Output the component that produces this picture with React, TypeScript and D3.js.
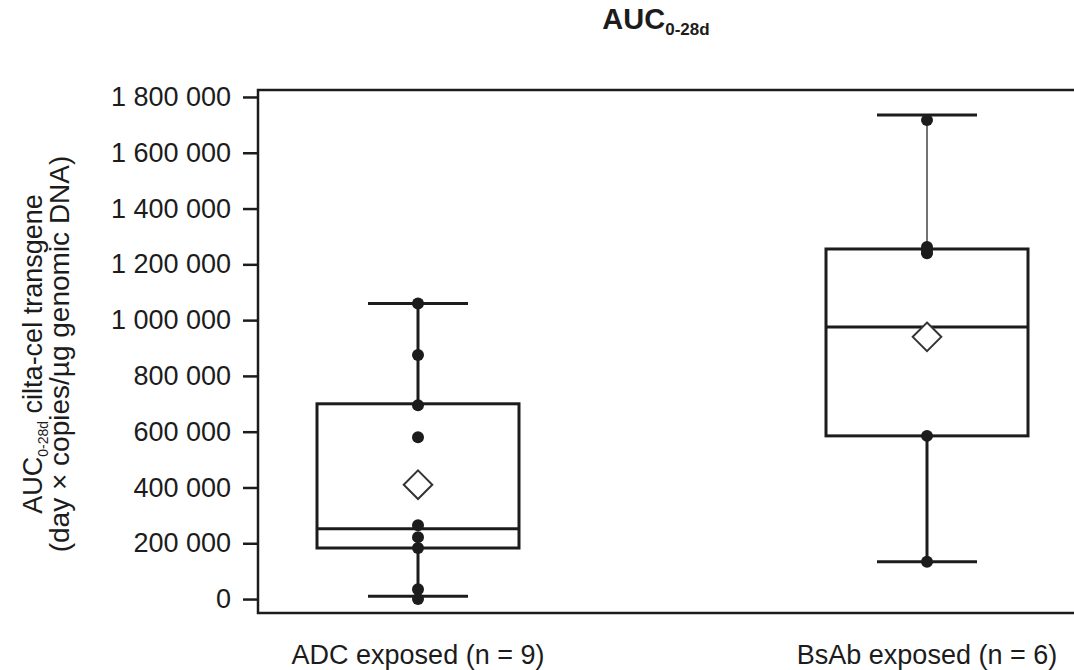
import React, { useEffect, useRef } from 'react'
import * as d3 from 'd3'

// groups and box statistics
const categories = ['ADC exposed (n = 9)', 'BsAb exposed (n = 6)']
const whiskerLow = [10000, 134000]
const q1 = [183000, 585000]
const median = [252000, 975000]
const q3 = [700000, 1255000]
const whiskerHigh = [1060000, 1735000]
const means = [410000, 940000]

// individual patients
const adcPoints = [1060000, 875000, 695000, 580000, 265000, 222000, 183000, 35000, 0]
const bsabPoints = [1717000, 1262000, 1240000, 585000, 134000, 1250000]

const yTicks = [0, 200000, 400000, 600000, 800000, 1000000, 1200000, 1400000, 1600000, 1800000]

const FONT = '"Liberation Sans", Arial, sans-serif'
const INK = '#1c1c1c'

const App = () => {
  const ref = useRef<SVGSVGElement>(null)

  useEffect(() => {
    const svg = d3.select(ref.current)
    svg.selectAll('*').remove()

    const x = d3.scalePoint().domain(categories).range([418, 927])
    const y = d3.scaleLinear().domain([-50000, 1825000]).range([613, 90])

    const boxHalf = 101
    const capHalf = 50

    // frame (right side runs off the picture)
    svg
      .append('path')
      .attr('d', `M1090,${y(1825000)} H258 V${y(-50000)} H1090`)
      .attr('fill', 'none')
      .attr('stroke', INK)
      .attr('stroke-width', 2.5)

    // y axis
    const yAxis = svg
      .append('g')
      .attr('transform', 'translate(258,0)')
      .call(
        d3
          .axisLeft(y)
          .tickValues(yTicks)
          .tickSize(15)
          .tickPadding(12)
          .tickFormat((d) => d3.format(',')(d as number).replace(/,/g, ' '))
      )
    yAxis.select('.domain').remove()
    yAxis.selectAll('line').attr('stroke', INK).attr('stroke-width', 2.5)
    yAxis
      .selectAll('text')
      .attr('fill', INK)
      .style('font-family', FONT)
      .style('font-size', '27px')

    // boxes
    const groups = categories.map((c, i) => ({
      c,
      lo: whiskerLow[i],
      q1: q1[i],
      med: median[i],
      q3: q3[i],
      hi: whiskerHigh[i],
      mean: means[i],
      pts: i === 0 ? adcPoints : bsabPoints
    }))
    // upper whisker of BsAb is drawn thin in the source
    const upperWidth = [3, 1.5]

    groups.forEach((g, i) => {
      const cx = x(g.c) as number
      const gg = svg.append('g')
      gg.append('line')
        .attr('x1', cx).attr('x2', cx)
        .attr('y1', y(g.q3)).attr('y2', y(g.hi))
        .attr('stroke', i === 1 ? '#444' : INK)
        .attr('stroke-width', upperWidth[i])
      gg.append('line')
        .attr('x1', cx).attr('x2', cx)
        .attr('y1', y(g.q1)).attr('y2', y(g.lo))
        .attr('stroke', INK)
        .attr('stroke-width', 3)
      ;[g.lo, g.hi].forEach((v) => {
        gg.append('line')
          .attr('x1', cx - capHalf).attr('x2', cx + capHalf)
          .attr('y1', y(v)).attr('y2', y(v))
          .attr('stroke', INK)
          .attr('stroke-width', 3)
      })
      gg.append('rect')
        .attr('x', cx - boxHalf)
        .attr('y', y(g.q3))
        .attr('width', boxHalf * 2)
        .attr('height', y(g.q1) - y(g.q3))
        .attr('fill', 'none')
        .attr('stroke', INK)
        .attr('stroke-width', 3)
      gg.append('line')
        .attr('x1', cx - boxHalf).attr('x2', cx + boxHalf)
        .attr('y1', y(g.med)).attr('y2', y(g.med))
        .attr('stroke', INK)
        .attr('stroke-width', 3)
      // points
      gg.selectAll('circle')
        .data(g.pts)
        .enter()
        .append('circle')
        .attr('cx', cx)
        .attr('cy', (d) => y(d))
        .attr('r', 6)
        .attr('fill', INK)
      // mean diamond
      gg.append('path')
        .attr('d', d3.symbol(d3.symbolDiamond2, 520)())
        .attr('transform', `translate(${cx},${y(g.mean)})`)
        .attr('fill', 'white')
        .attr('stroke', '#333')
        .attr('stroke-width', 2)
    })

    // x labels
    svg
      .selectAll('.xlab')
      .data(categories)
      .enter()
      .append('text')
      .attr('class', 'xlab')
      .attr('x', (d) => x(d) as number)
      .attr('y', 664)
      .attr('text-anchor', 'middle')
      .attr('fill', INK)
      .style('font-family', FONT)
      .style('font-size', '27px')
      .text((d) => d)

    // title
    const title = svg
      .append('text')
      .attr('x', 656)
      .attr('y', 29)
      .attr('text-anchor', 'middle')
      .attr('fill', INK)
      .style('font-family', FONT)
      .style('font-weight', 'bold')
    title.append('tspan').style('font-size', '29px').text('AUC')
    title.append('tspan').attr('dy', 6).style('font-size', '17px').text('0-28d')

    // y label
    const yl = svg
      .append('g')
      .attr('transform', 'translate(0,354) rotate(-90)')
    const l1 = yl
      .append('text')
      .attr('x', 0)
      .attr('y', 42)
      .attr('text-anchor', 'middle')
      .attr('fill', INK)
      .style('font-family', FONT)
      .style('font-size', '27px')
    l1.append('tspan').text('AUC')
    l1.append('tspan').attr('dy', 6).style('font-size', '14px').text('0-28d')
    l1.append('tspan').attr('dy', -6).text(' cilta-cel transgene')
    yl.append('text')
      .attr('x', 0)
      .attr('y', 69)
      .attr('text-anchor', 'middle')
      .attr('fill', INK)
      .style('font-family', FONT)
      .style('font-size', '28px')
      .text('(day × copies/µg genomic DNA)')
  }, [])

  return (
    <svg
      ref={ref}
      width={1074}
      height={670}
      style={{ position: 'absolute', left: 0, top: 0, background: 'white' }}
    />
  )
}

export default App
